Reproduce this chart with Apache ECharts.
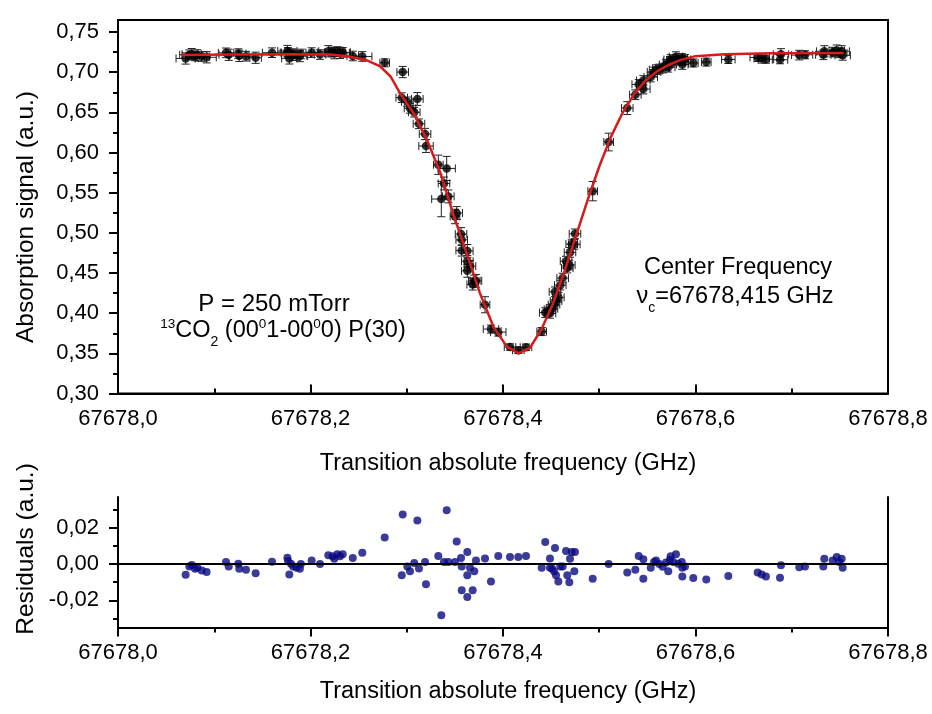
<!DOCTYPE html>
<html><head><meta charset="utf-8">
<script src="https://cdn.jsdelivr.net/npm/echarts@6/dist/echarts.min.js"></script>
<style>html,body{margin:0;padding:0;background:#fff}#c{width:932px;height:714px}</style>
</head><body><div id="c"></div>
<script>
// ---- data ----
const freq = [67678.0703,67678.0741,67678.0766,67678.0800,67678.0824,67678.0870,67678.0921,67678.1122,67678.1150,67678.1250,
67678.1260,67678.1330,67678.1430,67678.1600,67678.1760,67678.1766,67678.1780,67678.1797,67678.1820,67678.1856,
67678.1890,67678.1900,67678.2012,67678.2099,67678.2185,67678.2230,67678.2247,67678.2279,67678.2306,67678.2335,
67678.2439,67678.2538,67678.2771,67678.2948,67678.2958,67678.3006,67678.3034,67678.3078,67678.3110,67678.3127,
67678.3190,67678.3200,67678.3328,67678.3359,67678.3387,67678.3415,67678.3432,67678.3501,67678.3519,67678.3564,
67678.3571,67678.3571,67678.3629,67678.3629,67678.3629,67678.3657,67678.3685,67678.3702,67678.3719,67678.3813,
67678.3875,67678.3951,67678.4073,67678.4159,67678.4239,67678.4402,67678.4439,67678.4488,67678.4488,67678.4509,
67678.4530,67678.4540,67678.4551,67678.4575,67678.4595,67678.4620,67678.4655,67678.4668,67678.4689,67678.4696,
67678.4714,67678.4741,67678.4748,67678.4932,67678.5098,67678.5291,67678.5375,67678.5410,67678.5458,67678.5458,
67678.5535,67678.5569,67678.5590,67678.5624,67678.5659,67678.5694,67678.5717,67678.5735,67678.5742,67678.5769,
67678.5797,67678.5821,67678.5857,67678.5863,67678.5863,67678.5891,67678.5977,67678.6112,67678.6341,67678.6646,
67678.6688,67678.6732,67678.6888,67678.6878,67678.7078,67678.7138,67678.7328,67678.7338,67678.7425,67678.7467,
67678.7494,67678.7519,67678.7529];
const absorb = [0.7171,0.7217,0.7225,0.7204,0.7210,0.7195,0.7186,0.7241,0.7217,0.7232,
0.7204,0.7199,0.7180,0.7243,0.7264,0.7246,0.7172,0.7231,0.7216,0.7208,
0.7201,0.7227,0.7244,0.7220,0.7261,0.7252,0.7237,0.7257,0.7241,0.7247,
0.7202,0.7196,0.7117,0.6683,0.7002,0.6631,0.6550,0.6502,0.6667,0.6358,
0.6231,0.6081,0.5848,0.5421,0.5615,0.5802,0.5454,0.5204,0.5247,0.4985,
0.4913,0.4781,0.4775,0.4647,0.4527,0.4585,0.4358,0.4404,0.4403,0.4105,
0.3802,0.3764,0.3578,0.3539,0.3576,0.3771,0.4007,0.4049,0.3998,0.4056,
0.4107,0.4266,0.4152,0.4197,0.4349,0.4437,0.4648,0.4561,0.4600,0.4757,
0.4861,0.4857,0.4988,0.5519,0.6131,0.6553,0.6719,0.6848,0.6897,0.6790,
0.6940,0.7004,0.7032,0.7040,0.7051,0.7096,0.7062,0.7135,0.7158,0.7139,
0.7194,0.7151,0.7173,0.7144,0.7096,0.7159,0.7115,0.7126,0.7159,0.7184,
0.7173,0.7162,0.7223,0.7155,0.7213,0.7217,0.7217,0.7260,0.7250,0.7269,
0.7241,0.7260,0.7210];
const resid = [-0.0059,-0.0013,-0.0005,-0.0026,-0.0020,-0.0035,-0.0044,0.0011,-0.0013,0.0002,
-0.0026,-0.0031,-0.0050,0.0013,0.0035,0.0017,-0.0057,0.0002,-0.0013,-0.0020,
-0.0026,0.0000,0.0020,0.0000,0.0048,0.0043,0.0030,0.0054,0.0043,0.0054,
0.0033,0.0063,0.0146,-0.0062,0.0273,-0.0013,-0.0039,0.0006,0.0241,-0.0025,
0.0011,-0.0112,0.0044,-0.0282,0.0011,0.0297,0.0011,0.0011,0.0125,0.0033,
-0.0013,-0.0145,0.0066,-0.0062,-0.0182,-0.0020,-0.0145,-0.0039,0.0020,0.0031,
-0.0096,0.0044,0.0039,0.0039,0.0044,-0.0020,0.0122,0.0031,-0.0020,-0.0025,
-0.0039,0.0088,-0.0062,-0.0096,-0.0013,-0.0013,0.0072,-0.0062,-0.0101,0.0030,
0.0066,-0.0039,0.0066,-0.0081,0.0000,-0.0046,-0.0031,0.0044,0.0026,-0.0081,
-0.0020,0.0011,0.0020,0.0000,-0.0015,0.0008,-0.0039,0.0024,0.0043,0.0011,
0.0054,0.0002,0.0011,-0.0020,-0.0068,-0.0013,-0.0077,-0.0085,-0.0066,-0.0046,
-0.0057,-0.0068,-0.0007,-0.0075,-0.0017,-0.0013,-0.0013,0.0030,0.0020,0.0039,
0.0011,0.0030,-0.0020];
const xErr = [0.010,0.010,0.010,0.008,0.010,0.008,0.010,0.008,0.010,0.008,
0.010,0.008,0.006,0.010,0.010,0.008,0.008,0.010,0.008,0.010,
0.008,0.010,0.006,0.006,0.010,0.008,0.010,0.008,0.010,0.008,
0.006,0.010,0.005,0.006,0.006,0.006,0.006,0.006,0.006,0.006,
0.006,0.0075,0.005,0.010,0.006,0.009,0.006,0.005,0.006,0.006,
0.006,0.006,0.006,0.006,0.006,0.006,0.006,0.006,0.006,0.005,
0.008,0.008,0.006,0.006,0.006,0.005,0.006,0.006,0.006,0.006,
0.006,0.006,0.006,0.006,0.006,0.006,0.006,0.006,0.006,0.006,
0.006,0.006,0.006,0.005,0.005,0.006,0.006,0.007,0.007,0.007,
0.007,0.007,0.007,0.007,0.007,0.007,0.007,0.007,0.007,0.007,
0.007,0.007,0.006,0.006,0.006,0.006,0.005,0.005,0.007,0.008,
0.008,0.008,0.008,0.008,0.008,0.008,0.008,0.008,0.008,0.008,
0.008,0.008,0.008];
const yErr = [0.007,0.006,0.007,0.006,0.007,0.006,0.007,0.006,0.007,0.006,
0.007,0.006,0.007,0.006,0.007,0.006,0.007,0.006,0.007,0.006,
0.007,0.006,0.006,0.006,0.007,0.006,0.007,0.006,0.007,0.006,
0.006,0.006,0.005,0.006,0.007,0.006,0.006,0.006,0.008,0.006,
0.007,0.008,0.012,0.022,0.008,0.015,0.008,0.009,0.008,0.008,
0.007,0.007,0.008,0.007,0.008,0.007,0.007,0.007,0.008,0.010,
0.005,0.005,0.004,0.004,0.004,0.005,0.006,0.006,0.006,0.006,
0.006,0.006,0.006,0.006,0.006,0.006,0.006,0.006,0.006,0.006,
0.006,0.006,0.006,0.012,0.011,0.008,0.006,0.006,0.006,0.006,
0.006,0.006,0.006,0.006,0.006,0.006,0.006,0.006,0.006,0.006,
0.006,0.006,0.006,0.006,0.006,0.006,0.005,0.005,0.005,0.005,
0.006,0.005,0.007,0.005,0.006,0.005,0.006,0.007,0.006,0.007,
0.006,0.007,0.006];
const fitFreq = [67678.066,67678.120,67678.180,67678.220,67678.240,67678.258,67678.272,67678.283,67678.293,67678.307,
67678.321,67678.335,67678.348,67678.362,67678.376,67678.390,67678.404,67678.416,67678.428,67678.440,
67678.452,67678.464,67678.476,67678.488,67678.500,67678.512,67678.524,67678.536,67678.548,67678.560,
67678.572,67678.584,67678.600,67678.630,67678.680,67678.754];
const fitVal = [0.7215,0.7220,0.7225,0.7220,0.7195,0.7150,0.7075,0.6950,0.6740,0.6490,
0.6160,0.5745,0.5247,0.4750,0.4250,0.3833,0.3583,0.3500,0.3567,0.3800,
0.4120,0.4524,0.4968,0.5412,0.5826,0.6192,0.6490,0.6725,0.6895,0.7010,
0.7090,0.7150,0.7200,0.7225,0.7235,0.7240];
const absTicks = [0.30,0.35,0.40,0.45,0.50,0.55,0.60,0.65,0.70,0.75];
const absMinor = [0.325,0.375,0.425,0.475,0.525,0.575,0.625,0.675,0.725];
const resTicks = [-0.02,0.00,0.02];
const resMinor = [-0.03,-0.01,0.01,0.03];

// ---- chart ----
const FONT = "'Liberation Sans', Arial, sans-serif";
const fmtX = v => v.toFixed(1).replace('.', ',');
const fmtY = v => v.toFixed(2).replace('.', ',');
const chart = echarts.init(document.getElementById('c'), null, {renderer: 'canvas'});

const lineSt = {color: '#000', width: 2};
const labelSt = {fontFamily: FONT, fontSize: 22, color: '#000'};

function xAxisDef(grid, inside, margin) {
  return {
    type: 'value', gridIndex: grid, min: 67678.0, max: 67678.8, interval: 0.2,
    axisLine: {show: true, onZero: false, lineStyle: lineSt},
    axisTick: {show: true, inside: inside, length: 9, lineStyle: {color: '#000', width: 2}},
    minorTick: {show: true, splitNumber: 2, length: 5, lineStyle: {color: '#000', width: 2}},
    axisLabel: Object.assign({formatter: fmtX, margin: margin}, labelSt),
    splitLine: {show: false}, minorSplitLine: {show: false}
  };
}
function yMain(grid, min, max, ticks, fmt) {
  return {
    type: 'value', gridIndex: grid, min: min, max: max, position: 'left',
    axisLine: {show: true, onZero: false, lineStyle: lineSt},
    axisTick: {show: true, inside: false, length: 9, customValues: ticks, lineStyle: {color: '#000', width: 2}},
    axisLabel: Object.assign({formatter: fmt, margin: 19, customValues: ticks}, labelSt),
    splitLine: {show: false}
  };
}
function yMinor(grid, min, max, ticks) {
  return {
    type: 'value', gridIndex: grid, min: min, max: max, position: 'left',
    axisLine: {show: false},
    axisTick: {show: true, inside: false, length: 5, customValues: ticks, lineStyle: {color: '#000', width: 2}},
    axisLabel: {show: false},
    splitLine: {show: false}
  };
}

const errData = freq.map((f, i) => [f, absorb[i], xErr[i], yErr[i]]);
const ptData = freq.map((f, i) => [f, absorb[i]]);
const fitData = fitFreq.map((f, i) => [f, fitVal[i]]);
const resData = freq.map((f, i) => [f, resid[i]]);

const txt = (text, x, y, size, rot) => {
  const el = {type: 'text', x: x, y: y, silent: true,
    style: {text: text, font: size + 'px ' + FONT, fill: '#000', align: 'center', verticalAlign: 'middle'}};
  if (rot !== undefined) el.rotation = rot;
  return el;
};

const rich = {
  m: {fontSize: 23.5, fontFamily: FONT, lineHeight: 24, fill: '#000'},
  sup: {fontSize: 13.5, fontFamily: FONT, lineHeight: 13, padding: [0, 0, 14, 0], fill: '#000'},
  sub: {fontSize: 14, fontFamily: FONT, lineHeight: 14, padding: [22, 0, 0, 0], fill: '#000'}
};

chart.setOption({
  animation: false,
  backgroundColor: '#fff',
  grid: [
    {left: 118, right: 44, top: 20, height: 373.5, show: true, borderColor: '#000', borderWidth: 2, backgroundColor: 'transparent'},
    {left: 118, right: 44, top: 497, height: 130.5}
  ],
  xAxis: [xAxisDef(0, true, 14), xAxisDef(1, false, 14)],
  yAxis: [
    yMain(0, 0.30, 0.765, absTicks, fmtY),
    yMinor(0, 0.30, 0.765, absMinor),
    yMain(1, -0.035, 0.037, resTicks, fmtY),
    yMinor(1, -0.035, 0.037, resMinor),
    {type: 'value', gridIndex: 1, min: -0.035, max: 0.037, position: 'right',
     axisLine: {show: true, onZero: false, lineStyle: lineSt}, axisTick: {show: false}, axisLabel: {show: false}, splitLine: {show: false}}
  ],
  series: [
    {
      type: 'custom', xAxisIndex: 0, yAxisIndex: 0, data: errData, z: 2, silent: true,
      renderItem: function (params, api) {
        const f = api.value(0), v = api.value(1), ex = api.value(2), ey = api.value(3);
        const L = api.coord([f - ex, v]), R = api.coord([f + ex, v]);
        const T = api.coord([f, v + ey]), B = api.coord([f, v - ey]);
        const cap = 4;
        const st = {stroke: '#222', lineWidth: 1};
        const seg = (x1, y1, x2, y2) => ({type: 'line', shape: {x1: x1, y1: y1, x2: x2, y2: y2}, style: st});
        return {type: 'group', children: [
          seg(L[0], L[1], R[0], R[1]),
          seg(L[0], L[1] - cap, L[0], L[1] + cap),
          seg(R[0], R[1] - cap, R[0], R[1] + cap),
          seg(T[0], T[1], B[0], B[1]),
          seg(T[0] - cap, T[1], T[0] + cap, T[1]),
          seg(B[0] - cap, B[1], B[0] + cap, B[1])
        ]};
      }
    },
    {type: 'scatter', xAxisIndex: 0, yAxisIndex: 0, data: ptData, symbol: 'circle', symbolSize: 8.5,
     itemStyle: {color: '#000'}, z: 3, silent: true},
    {type: 'line', xAxisIndex: 0, yAxisIndex: 0, data: fitData, showSymbol: false, smooth: false,
     lineStyle: {color: '#d41c1c', width: 2.5}, z: 4, silent: true},
    {type: 'scatter', xAxisIndex: 1, yAxisIndex: 2, data: resData, symbol: 'circle', symbolSize: 8,
     itemStyle: {color: '#0a0a80'}, z: 3, silent: true,
     markLine: {silent: true, symbol: ['none', 'none'], label: {show: false}, lineStyle: {color: '#000', width: 2, type: 'solid'},
       data: [{yAxis: 0}]}}
  ],
  graphic: [
    txt('Absorption signal (a.u.)', 26, 217, 24.5, Math.PI / 2),
    txt('Transition absolute frequency (GHz)', 508, 464, 23.5),
    txt('Residuals (a.u.)', 26, 549, 24.5, Math.PI / 2),
    txt('Transition absolute frequency (GHz)', 508, 692, 23.5),
    txt('P = 250 mTorr', 274, 304, 24),
    {type: 'text', x: 283, y: 331, silent: true, style: {
      text: '{sup|13}{m|CO}{sub|2}{m| (00}{sup|0}{m|1-00}{sup|0}{m|0) P(30)}',
      rich: rich, align: 'center', verticalAlign: 'middle', fill: '#000', font: '23.5px ' + FONT}},
    txt('Center Frequency', 738, 268, 23.5),
    {type: 'text', x: 735, y: 297, silent: true, style: {
      text: '{m|\u03bd}{sub|c}{m|=67678,415 GHz}',
      rich: rich, align: 'center', verticalAlign: 'middle', fill: '#000', font: '23.5px ' + FONT}}
  ]
});
</script>
</body></html>
